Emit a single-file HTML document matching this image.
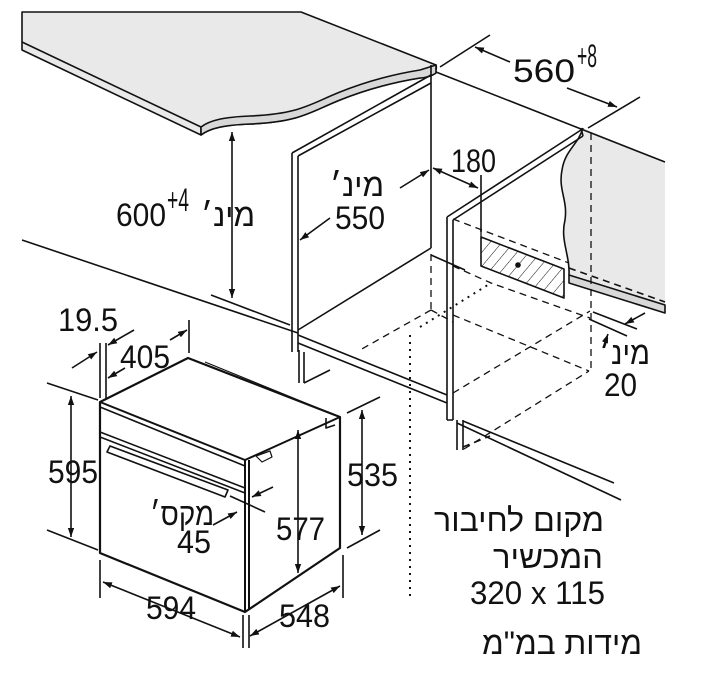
<!DOCTYPE html>
<html><head><meta charset="utf-8"><style>
html,body{margin:0;padding:0;background:#fff;}
svg{display:block;}
text{font-family:"Liberation Sans","Noto Sans CJK SC",sans-serif;font-size:32px;fill:#111;}
</style></head><body>
<svg width="709" height="680" viewBox="0 0 709 680" xmlns="http://www.w3.org/2000/svg">
<defs>
<marker id="a" viewBox="0 0 10 10" refX="10" refY="5" markerWidth="9" markerHeight="9" orient="auto-start-reverse" markerUnits="userSpaceOnUse"><path d="M0,1.5 L10,5 L0,8.5 Z" fill="#111"/></marker>
<pattern id="h" width="9" height="9" patternUnits="userSpaceOnUse" patternTransform="rotate(40)"><line x1="0" y1="0" x2="0" y2="9" stroke="#111" stroke-width="1"/></pattern>
</defs>
<g stroke="#111" stroke-width="1.6" fill="none" stroke-linejoin="round">
<path d="M22,12 L301,12 L436,65 C438,72 432,76 420,78 C395,82 370,88 340,100 C310,112 300,122 250,124 C225,125 210,128 201,135 L22,50 Z" fill="#e9e9e9"/>
<path d="M22,42 L201,127 L201,135"/>
<path d="M201,127 C210,120 225,117 250,116 C300,114 310,104 340,92 C370,80 395,74 420,70 L436,65 L436,73 C432,76 425,78 420,78 C395,82 370,88 340,100 C310,112 300,122 250,124 C225,125 210,128 201,135 Z" fill="#d8d8d8"/>
<path d="M583,128 C578,145 565,150 562,170 C558,190 568,200 565,220 C560,240 570,255 569,275 L665,305 L665,162 Z" fill="#e9e9e9" stroke="none"/>
<path d="M583,128 C578,145 565,150 562,170 C558,190 568,200 565,220 C560,240 570,255 569,275"/>
<path d="M569,275 L569,283 L665,313 L665,305 Z" fill="#d8d8d8"/>
<path d="M436,72 L665,162"/>
<path d="M569,268 L665,302" stroke-dasharray="7,5"/>
<path d="M292,153 L431,75 M298,156 L431,83"/>
<path d="M292,153 L292,352 M298,156 L298,352 M431,65 L431,248"/>
<path d="M298,330 L431,248 M431,255 L465,270"/>
<path d="M299,350 L299,383 M304,352 L304,383 M304,383 L330,370"/>
<path d="M22,240 L298,333"/>
<path d="M298,335 L447,395 M298,343 L447,403"/>
<path d="M211,295 L290,325"/>
<path d="M447,217 L581,130 M453,220 L583,136 M581,128 L583,136"/>
<path d="M447,217 L447,420 M453,220 L453,420 M447,420 L453,420"/>
<path d="M457,420 L457,450 M463,420 L463,450"/>
<path d="M463,421 L614,483 M457,423 L621,500"/>
<path d="M463,447 L490,436" stroke-dasharray="7,5"/>
<path d="M481,237 L481,266 L564,298 L564,269 Z" fill="url(#h)"/>
<circle cx="518" cy="265" r="2.8" fill="#111" stroke="none"/>
<g stroke-dasharray="7,5" stroke-width="1.3">
<path d="M591,133 L591,371"/>
<path d="M453,219 L569,263"/>
<path d="M481,230 L481,237"/>
<path d="M431,254 L431,310"/>
<path d="M453,266 L491,283 L590,318"/>
<path d="M453,315 L589,371"/>
<path d="M453,393 L590,311"/>
<path d="M464,449 L589,371"/>
<path d="M431,310 L360,350 M431,310 L453,322"/>
</g>
<path d="M420,327 L491,283" stroke-dasharray="2,5" stroke-width="2"/>
<path d="M410,335 L410,600" stroke-dasharray="2,5" stroke-width="2"/>
<path d="M440,67 L490,35 M588,128 L640,97"/>
<path d="M510,62 L475,47" marker-end="url(#a)"/>
<path d="M567,88 L617,107" marker-end="url(#a)"/>
<path d="M433,168 L478,188" marker-start="url(#a)" marker-end="url(#a)"/>
<path d="M481,175 L481,232"/>
<path d="M400,188 L429,170" marker-end="url(#a)"/>
<path d="M330,218 L300,240" marker-end="url(#a)"/>
<path d="M232,132 L232,298" marker-start="url(#a)" marker-end="url(#a)"/>
<path d="M593,312 L637,329 M589,319 L627,336"/>
<path d="M645,313 L625,324" marker-end="url(#a)"/>
<path d="M603,348 L608,334" marker-end="url(#a)"/>
<path d="M100,402 L188,358 L340,417 L340,548 L245,612 L100,553 Z" fill="#fff" stroke-width="2.2"/>
<path d="M100,402 L245,460 L340,417 M245,460 L245,612 M249,460 L249,610" stroke-width="2"/>
<path d="M100,407 L245,466"/>
<path d="M100,432 L245,488 M100,437 L245,493"/>
<path d="M193,360 L330,413 M205,362 L335,415" stroke-width="1.2"/>
<path d="M107,452 L225,497 L228,490 L110,446 Z"/>
<path d="M326,418 L326,428 L335,425"/>
<path d="M256,456 L270,451 L272,457 L262,462 Z" stroke-width="1.2"/>
<path d="M100,343 L100,398 M106,343 L106,398 M189,320 L189,353"/>
<path d="M72,368 L97,352" marker-end="url(#a)"/>
<path d="M134,330 L108,345" marker-end="url(#a)"/>
<path d="M125,368 L108,378" marker-end="url(#a)"/>
<path d="M170,340 L187,330" marker-end="url(#a)"/>
<path d="M47,383 L98,400 M47,530 L98,550"/>
<path d="M71,396 L71,537" marker-start="url(#a)" marker-end="url(#a)"/>
<path d="M298,430 L298,573" marker-start="url(#a)" marker-end="url(#a)"/>
<path d="M347,413 L380,397 M347,548 L380,530"/>
<path d="M362,410 L362,535" marker-start="url(#a)" marker-end="url(#a)"/>
<path d="M100,560 L100,598 M243,615 L243,648 M249,615 L249,648 M343,555 L343,598"/>
<path d="M103,582 L240,637" marker-start="url(#a)" marker-end="url(#a)"/>
<path d="M250,636 L340,586" marker-start="url(#a)" marker-end="url(#a)"/>
<path d="M230,496 L265,512"/>
<path d="M273,487 L252,497" marker-end="url(#a)"/>
<path d="M213,525 L237,512" marker-end="url(#a)"/>
</g>
<text x="513" y="82" textLength="62" lengthAdjust="spacingAndGlyphs">560</text><text x="577" y="67" font-size="21" textLength="20" lengthAdjust="spacingAndGlyphs">+8</text>
<text x="451" y="172" textLength="45" lengthAdjust="spacingAndGlyphs">180</text>
<text x="330" y="196" textLength="54" lengthAdjust="spacingAndGlyphs">מינ׳</text>
<text x="335" y="229" textLength="50" lengthAdjust="spacingAndGlyphs">550</text>
<text x="116" y="226" textLength="50" lengthAdjust="spacingAndGlyphs">600</text><text x="167" y="211" font-size="21" textLength="22" lengthAdjust="spacingAndGlyphs">+4</text>
<text x="201" y="226" textLength="54" lengthAdjust="spacingAndGlyphs">מינ׳</text>
<text x="58" y="331" textLength="60" lengthAdjust="spacingAndGlyphs">19.5</text>
<text x="120" y="368" textLength="50" lengthAdjust="spacingAndGlyphs">405</text>
<text x="48" y="483" textLength="50" lengthAdjust="spacingAndGlyphs">595</text>
<text x="347" y="486" textLength="51" lengthAdjust="spacingAndGlyphs">535</text>
<text x="276" y="540" textLength="49" lengthAdjust="spacingAndGlyphs">577</text>
<text x="150" y="525" textLength="64" lengthAdjust="spacingAndGlyphs">מקס׳</text>
<text x="177" y="553" textLength="34" lengthAdjust="spacingAndGlyphs">45</text>
<text x="146" y="619" textLength="50" lengthAdjust="spacingAndGlyphs">594</text>
<text x="279" y="627" textLength="51" lengthAdjust="spacingAndGlyphs">548</text>
<text x="600" y="364" textLength="50" lengthAdjust="spacingAndGlyphs">מינ׳</text>
<text x="604" y="396" textLength="33" lengthAdjust="spacingAndGlyphs">20</text>
<text x="434" y="531" textLength="170" lengthAdjust="spacingAndGlyphs">מקום לחיבור</text>
<text x="493" y="568" textLength="110" lengthAdjust="spacingAndGlyphs">המכשיר</text>
<text x="470" y="604" textLength="135" lengthAdjust="spacingAndGlyphs">320 x 115</text>
<text x="482" y="654" textLength="160" lengthAdjust="spacingAndGlyphs">מידות במ"מ</text>
</svg>
</body></html>
